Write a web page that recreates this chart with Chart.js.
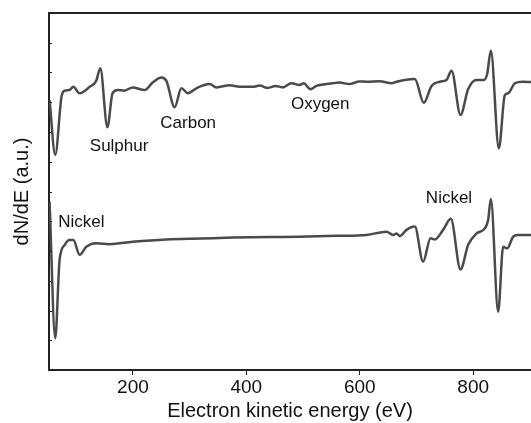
<!DOCTYPE html>
<html>
<head>
<meta charset="utf-8">
<script src="https://cdn.jsdelivr.net/npm/chart.js@4"></script>
<style>
  html, body { margin: 0; padding: 0; background: #fff; }
  #wrap { width: 531px; height: 423px; }
</style>
</head>
<body>
<div id="wrap"><canvas id="aes"></canvas></div>
<script>
// ── DATA ──
// upper spectrum (eV, arbitrary units)
const energyTop = [53, 63, 74, 79.5, 88, 95, 106, 124, 135, 142.5, 155, 164, 173, 185, 199.5, 220.6, 234.8, 250, 259, 273.6,
  285.4, 297, 311.9, 335.3, 347.2, 370.6, 388.3, 411.2, 423.6, 437.7, 451.8, 464.2, 479.5, 494.2, 501.2, 513, 523.6,
  552.4, 564.2, 581.9, 599.5, 611.8, 635.3, 656, 664.8, 679.4, 697.1, 713, 726.6, 741.2, 753, 761.9, 777.7, 791.1,
  806, 818.9, 824.7, 831.2, 845.3, 855.9, 861.7, 873.5, 887.2, 902];
const signalTop = [9.08, 7.23, 9.18, 9.39, 9.41, 9.52, 9.30, 9.52, 9.71, 10.14, 8.16, 9.30, 9.41, 9.39, 9.50, 9.41, 9.66, 9.83, 9.72, 8.83,
  9.47, 9.30, 9.47, 9.61, 9.50, 9.57, 9.52, 9.52, 9.56, 9.48, 9.55, 9.50, 9.64, 9.58, 9.64, 9.44, 9.55,
  9.64, 9.66, 9.61, 9.70, 9.69, 9.71, 9.64, 9.69, 9.75, 9.78, 8.98, 9.55, 9.69, 9.75, 10.06, 8.57, 9.44,
  9.75, 9.75, 9.95, 10.73, 7.45, 9.24, 9.30, 9.64, 9.69, 9.68];

// lower spectrum
const energyBottom = [53, 63, 70.7, 79.5, 88, 95, 106, 117.8, 135, 158.9, 199.5, 259, 320, 376, 440, 494, 560, 611.8, 647.1, 658.8,
  664.8, 670.6, 682.4, 697.1, 711.7, 724.8, 732.4, 747, 760.6, 777.7, 791.1, 806, 820.6, 826.4, 831.2, 844.1,
  852.9, 860, 870.6, 879.4, 902];
const signalBottom = [5.66, 1.07, 3.70, 4.20, 4.37, 4.37, 3.87, 4.14, 4.26, 4.23, 4.31, 4.39, 4.42, 4.45, 4.47, 4.48, 4.51, 4.54, 4.65, 4.54,
  4.59, 4.50, 4.71, 4.82, 3.64, 4.43, 4.39, 4.71, 5.08, 3.38, 4.20, 4.59, 4.76, 5.04, 5.75, 1.96,
  4.14, 4.09, 4.48, 4.54, 4.54];

// peak labels
const peakNames = ['Sulphur', 'Carbon', 'Oxygen', 'Nickel', 'Nickel'];
const peakX     = [175.6, 297.4, 530.3, 109.1, 757.4];
const peakY     = [7.52, 8.28, 8.94, 4.97, 5.76];

const xTicks = [200, 400, 600, 800];

const FONT = '"Liberation Sans", Arial, sans-serif';
const LINE = '#4a4a4a';

function toPoints(xs, ys) {
  return xs.map((x, i) => ({ x: x, y: ys[i] }));
}

// ── PLUGIN: frame, inner ticks, labels ──
const decor = {
  id: 'decor',
  afterDraw(chart) {
    const g = chart.ctx;
    const area = chart.chartArea;
    const xs = chart.scales.x, ys = chart.scales.y;
    g.save();

    // top border
    g.strokeStyle = '#222';
    g.lineWidth = 2;
    g.beginPath(); g.moveTo(area.left, area.top); g.lineTo(area.right, area.top); g.stroke();

    // small inward ticks on the left axis
    g.lineWidth = 1;
    ys.ticks.forEach(t => {
      if (t.value <= ys.min || t.value >= ys.max) return;
      const py = Math.round(ys.getPixelForValue(t.value)) + 0.5;
      g.beginPath(); g.moveTo(area.left, py); g.lineTo(area.left + 3, py); g.stroke();
    });

    // peak names
    g.fillStyle = '#111';
    g.font = '17px ' + FONT;
    g.textAlign = 'center';
    g.textBaseline = 'middle';
    peakNames.forEach((name, i) => {
      g.fillText(name, xs.getPixelForValue(peakX[i]), ys.getPixelForValue(peakY[i]));
    });
    g.restore();
  }
};

// ── CHART ──
new Chart(document.getElementById('aes'), {
  type: 'line',
  data: {
    datasets: [
      { data: toPoints(energyTop, signalTop) },
      { data: toPoints(energyBottom, signalBottom) },
    ]
  },
  options: {
    responsive: true,
    maintainAspectRatio: false,
    animation: false,
    layout: { padding: { top: 13, right: 0, left: 0, bottom: 0 } },
    elements: {
      line: { borderColor: LINE, borderWidth: 2.5, cubicInterpolationMode: 'monotone' },
      point: { radius: 0 }
    },
    scales: {
      x: {
        type: 'linear',
        min: 52, max: 902,
        afterFit: s => { s.height = 53; },
        afterBuildTicks: s => { s.ticks = xTicks.map(v => ({ value: v })); },
        border: { display: true, color: '#222', width: 2 },
        grid: { display: true, drawOnChartArea: false, drawTicks: true, tickLength: 5, color: '#222', lineWidth: 1 },
        ticks: { color: '#111', font: { family: FONT, size: 19 }, padding: 1, maxRotation: 0 },
        title: {
          display: true, text: 'Electron kinetic energy (eV)',
          color: '#111', font: { family: FONT, size: 20 }, padding: { top: 0, bottom: 0 }
        }
      },
      y: {
        min: 0, max: 12,
        afterFit: s => { s.width = 49; },
        border: { display: true, color: '#222', width: 2 },
        grid: { display: false },
        ticks: { display: false, stepSize: 1 },
        title: {
          display: true, text: 'dN/dE (a.u.)',
          color: '#111', font: { family: FONT, size: 20 }, padding: { top: 10, bottom: 0 }
        }
      }
    },
    plugins: {
      legend: { display: false },
      tooltip: { enabled: false }
    }
  },
  plugins: [decor]
});
</script>
</body>
</html>
